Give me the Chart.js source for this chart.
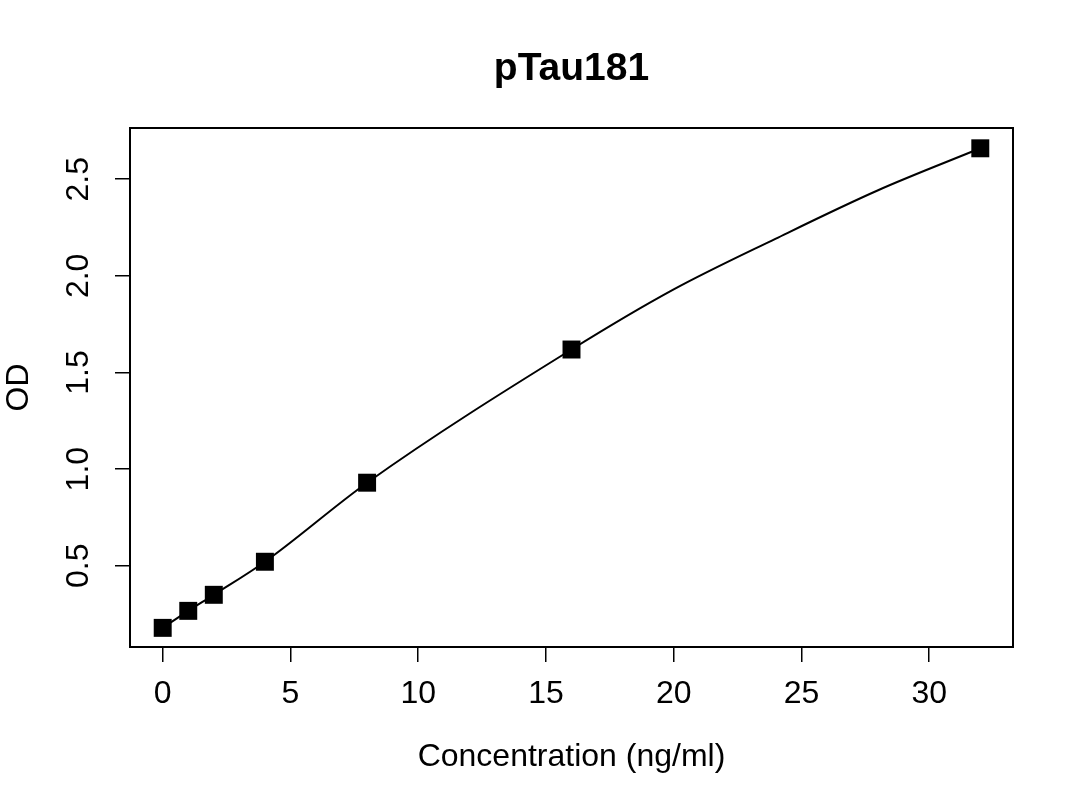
<!DOCTYPE html>
<html>
<head>
<meta charset="utf-8">
<script src="https://cdn.jsdelivr.net/npm/chart.js@4/dist/chart.umd.min.js"></script>
<style>
    html, body { margin: 0; padding: 0; background: #ffffff; }
    canvas { display: block; }
</style>
</head>
<body>
<canvas id="stdCurve" width="1080" height="810"></canvas>
<script>
// Standard points
const concentrations = [0, 1, 2, 4, 8, 16, 32];
const odValues = [0.179, 0.267, 0.350, 0.521, 0.930, 1.619, 2.660];

// Fitted curve at a few more concentrations
const curveConc = [0, 1, 2, 4, 8, 16, 20, 24, 28, 32];
const curveOD = [0.179, 0.267, 0.350, 0.521, 0.930, 1.619, 1.930, 2.193, 2.443, 2.660];

// Tick labels
const xTicks = [0, 5, 10, 15, 20, 25, 30];
const yTicks = [0.5, 1.0, 1.5, 2.0, 2.5];

const FONT = "'Liberation Sans', Arial, sans-serif";

// Draw the box round the plot region, like R's box()
const plotBox = {
    id: "plotBox",
    afterDraw(chart) {
        const { ctx, chartArea } = chart;
        ctx.save();
        ctx.strokeStyle = "#000";
        ctx.lineWidth = 2;
        ctx.strokeRect(chartArea.left, chartArea.top,
            chartArea.right - chartArea.left, chartArea.bottom - chartArea.top);
        ctx.restore();
    }
};

document.addEventListener("DOMContentLoaded", function () {
    let ctx = document.getElementById("stdCurve").getContext("2d");

    new Chart(ctx, {
        type: "line",
        data: {
            datasets: [{
                // standards
                data: concentrations.map((c, i) => ({ x: c, y: odValues[i] })),
                showLine: false,
                pointStyle: "rect",
                pointRadius: 12.7,
                pointBackgroundColor: "#000",
                pointBorderWidth: 0,
                clip: false,
                order: 0
            }, {
                // fitted curve
                data: curveConc.map((c, i) => ({ x: c, y: curveOD[i] })),
                borderColor: "#000",
                borderWidth: 2,
                cubicInterpolationMode: "monotone",
                pointRadius: 0,
                order: 1
            }]
        },
        options: {
            responsive: false,
            devicePixelRatio: 1,
            animation: false,
            layout: {
                padding: { left: 0, right: 67, top: 0, bottom: 0 }
            },
            plugins: {
                legend: { display: false },
                tooltip: { enabled: false },
                title: {
                    display: true,
                    fullSize: false,   // centre over the plot region
                    text: "pTau181",
                    color: "#000",
                    font: { family: FONT, size: 39, weight: "bold" },
                    padding: { top: 46, bottom: 35.2 }
                }
            },
            scales: {
                x: {
                    type: "linear",
                    min: -1.28,
                    max: 33.28,
                    afterBuildTicks: function (axis) {
                        axis.ticks = xTicks.map(v => ({ value: v }));
                    },
                    afterFit: function (axis) { axis.height = 163; },
                    ticks: {
                        color: "#000",
                        font: { family: FONT, size: 32 },
                        padding: 12.8,
                        maxRotation: 0,
                        autoSkip: false,
                        callback: v => String(v)
                    },
                    grid: {
                        drawOnChartArea: false,
                        drawTicks: true,
                        tickLength: 15,
                        color: "#000",
                        lineWidth: 1.5
                    },
                    border: { display: false },
                    title: {
                        display: true,
                        text: "Concentration (ng/ml)",
                        color: "#000",
                        font: { family: FONT, size: 32 },
                        padding: { top: 0, bottom: 33.8 }
                    }
                },
                y: {
                    type: "linear",
                    min: 0.08,
                    max: 2.765,
                    afterBuildTicks: function (axis) {
                        axis.ticks = yTicks.map(v => ({ value: v }));
                    },
                    afterFit: function (axis) { axis.width = 130; },
                    ticks: {
                        color: "#000",
                        font: { family: FONT, size: 32 },
                        padding: 13.8,
                        minRotation: 90,
                        maxRotation: 90,
                        crossAlign: "center",
                        autoSkip: false,
                        callback: v => v.toFixed(1)
                    },
                    grid: {
                        drawOnChartArea: false,
                        drawTicks: true,
                        tickLength: 15,
                        color: "#000",
                        lineWidth: 1.5
                    },
                    border: { display: false },
                    title: {
                        display: true,
                        text: "OD",
                        color: "#000",
                        font: { family: FONT, size: 32 },
                        padding: { top: 0, bottom: 0 }
                    }
                }
            }
        },
        plugins: [plotBox]
    });
});
</script>
</body>
</html>
